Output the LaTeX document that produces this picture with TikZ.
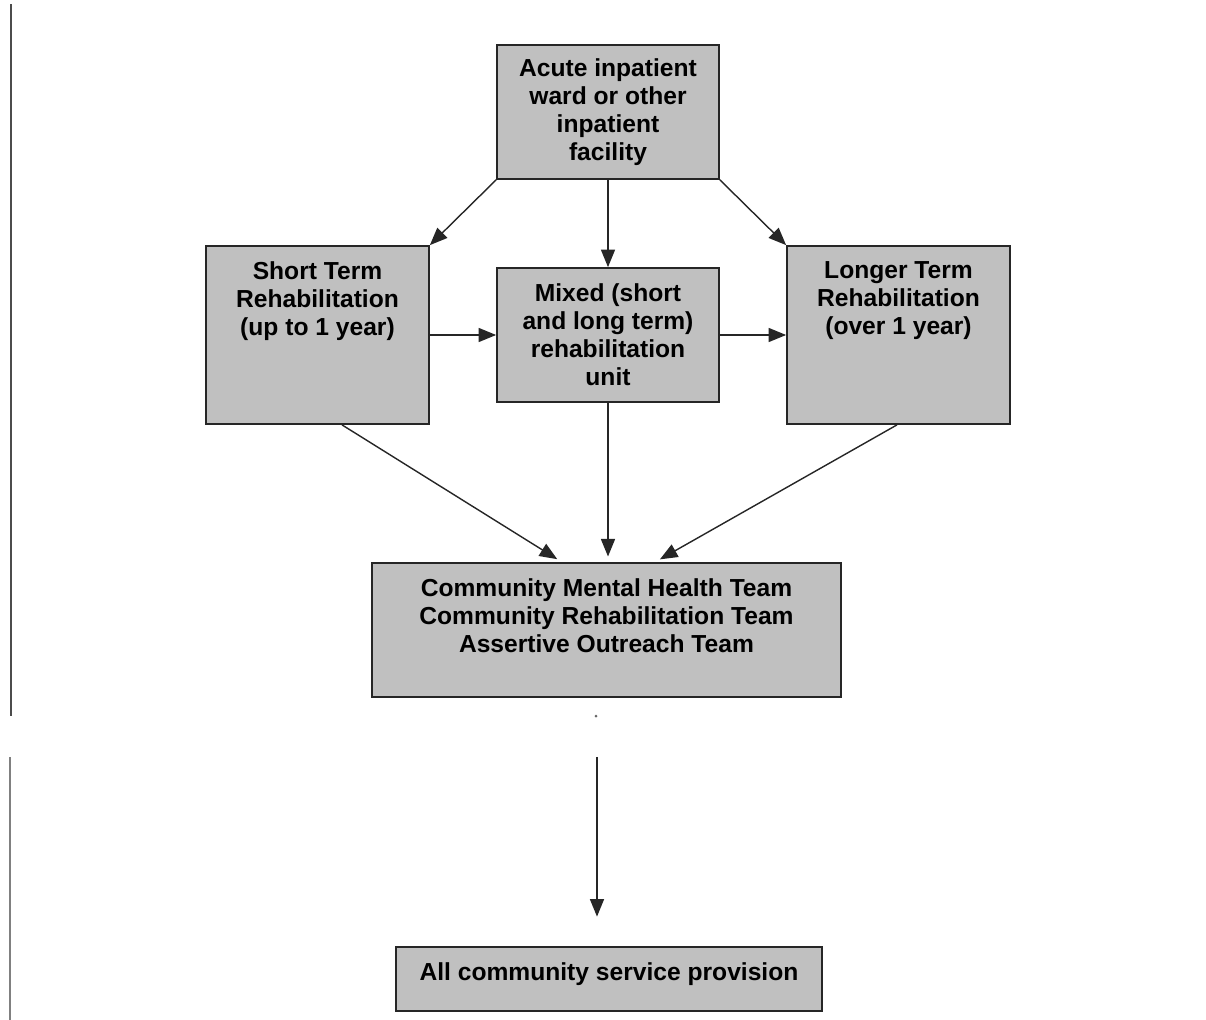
\documentclass[tikz,border=0pt]{standalone}
\usepackage{fontspec}
\setmainfont{Liberation Sans}
\usepackage{tikz}
\usetikzlibrary{arrows.meta}
\usetikzlibrary{calc,positioning}
\definecolor{boxgray}{RGB}{192,192,192}
\tikzstyle{block} = [draw=black!85, fill=boxgray,
	line width=1.2pt,
	inner sep=0pt]
\tikzstyle{txt} = [align=center, inner sep=0pt,
	font=\bfseries\fontsize{17.5}{20}\selectfont]
\tikzstyle{arrow} = [-{Triangle[length=12.5pt, width=10pt]}, line width=1pt, black!85]

\begin{document}
\begin{tikzpicture}[x=0.025cm, y=-0.025cm]
	\useasboundingbox (0,0) rectangle (1206,1020);
	
	\node (acute) [block, txt, minimum width=5.55cm, minimum height=3.35cm] at (608,112)
		{Acute inpatient\\ward or other\\inpatient\\facility};
	
	\node (short) [block, minimum width=5.575cm, minimum height=4.45cm] at (317.5,335) {};
	\node (shortT) [txt, below=0.4cm of short.north] {Short Term\\Rehabilitation\\(up to 1 year)};
	
	\node (mixed) [block, txt, minimum width=5.55cm, minimum height=3.35cm] at (608,335)
		{Mixed (short\\and long term)\\rehabilitation\\unit};
	
	\node (longer) [block, minimum width=5.575cm, minimum height=4.45cm] at (898.5,335) {};
	\node (longerT) [txt, below=0.4cm of longer.north] {Longer Term\\Rehabilitation\\(over 1 year)};
	
	\node (comm) [block, minimum width=11.725cm, minimum height=3.35cm] at (606.5,630) {};
	\node (commT) [txt, below=0.4cm of comm.north] {Community Mental Health Team\\Community Rehabilitation Team\\Assertive Outreach Team};
	
	\node (all) [block, minimum width=10.65cm, minimum height=1.6cm] at (609,979) {};
	\node (allT) [txt, below=0.4cm of all.north] {All community service provision};
	
	%from the ward
	\draw [arrow] (acute.south west) -- (short.north east);
	\draw [arrow] (acute) -- (mixed);
	\draw [arrow] (acute.south east) -- (longer.north west);
	
	\draw [arrow] (short) -- (mixed);
	\draw [arrow] (mixed) -- (longer);
	
	%down to the teams
	\draw [arrow, shorten >=4pt] ($(short.south)+(24.5,0)$) -- ($(comm.north)+(-44.5,0)$);
	\draw [arrow, shorten >=4pt] (mixed.south) -- (mixed.south |- comm.north);
	\draw [arrow, shorten >=4pt] ($(longer.south)+(-1.5,0)$) -- ($(comm.north)+(48.5,0)$);
	
	\draw [arrow, shorten <=42pt, shorten >=21pt] ($(comm.south)+(-9.5,0)$) -- ($(all.north)+(-12,0)$);
	
	%edge of the scan
	\fill [black!60] (596,716) circle (1.5);
	\draw [black!70, line width=1.6pt] (11,4) -- (11,716);
	\draw [black!50, line width=1.1pt] (10,757) -- (10,1020);
\end{tikzpicture}
\end{document}
